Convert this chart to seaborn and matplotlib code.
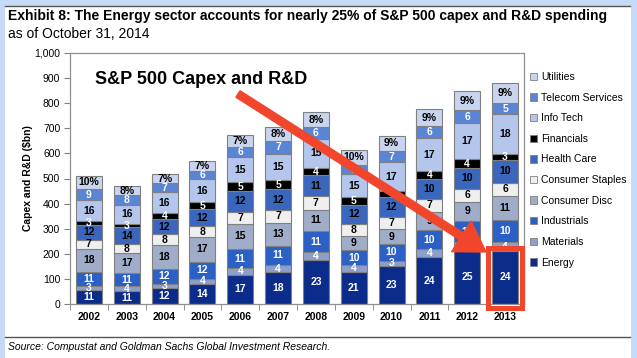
import numpy as np
import pandas as pd
import seaborn as sns
import matplotlib.pyplot as plt
from matplotlib.patches import Patch, Rectangle
from matplotlib.ticker import FuncFormatter

# data (percent of each year's total, totals in $bn)
years = [2002, 2003, 2004, 2005, 2006, 2007, 2008, 2009, 2010, 2011, 2012, 2013]
totals = [510, 470, 518, 570, 675, 705, 765, 615, 670, 778, 848, 880]

sectors = ['Energy', 'Materials', 'Industrials', 'Consumer Disc', 'Consumer Staples',
           'Health Care', 'Financials', 'Info Tech', 'Telecom Services', 'Utilities']
energy = [11, 11, 12, 14, 17, 18, 23, 21, 23, 24, 25, 24]
materials = [3, 4, 3, 4, 4, 4, 4, 4, 3, 4, 4, 4]
industrials = [11, 11, 12, 12, 11, 11, 11, 10, 10, 10, 10, 10]
cons_disc = [18, 17, 18, 17, 15, 13, 11, 9, 9, 9, 9, 11]
cons_staples = [7, 8, 8, 8, 7, 7, 7, 8, 7, 7, 6, 6]
health_care = [12, 14, 12, 12, 12, 12, 11, 12, 12, 10, 10, 10]
financials = [3, 3, 4, 5, 5, 5, 4, 5, 4, 4, 4, 3]
info_tech = [16, 16, 16, 16, 15, 15, 15, 15, 17, 17, 17, 18]
telecom = [9, 8, 7, 6, 6, 7, 6, 6, 7, 6, 6, 5]
utilities = [10, 8, 7, 7, 7, 8, 8, 10, 9, 9, 9, 9]

pcts = [energy, materials, industrials, cons_disc, cons_staples,
        health_care, financials, info_tech, telecom, utilities]

colors = ['#0b2c8a', '#8d9fca', '#2b60c6', '#a0adc9', '#efefef',
          '#3b66bd', '#000000', '#b4c6ec', '#5a85d5', '#c9d5ef']
text_colors = ['white', 'white', 'white', 'black', 'black',
               'black', 'white', 'black', 'white', 'black']

pct_arr = np.array(pcts, dtype=float)
seg = pct_arr / pct_arr.sum(axis=0) * np.array(totals)

rows = []
for i, s in enumerate(sectors):
    for j, y in enumerate(years):
        rows.append({'year': y, 'sector': s, 'value': seg[i, j]})
df = pd.DataFrame(rows)

fig = plt.figure(figsize=(6.37, 3.58), dpi=100)
fig.patches.append(Rectangle((0, 0), 1, 1, transform=fig.transFigure,
                             facecolor='#c6daf6', edgecolor='none', zorder=-10))
fig.patches.append(Rectangle((5 / 637, 0), 626 / 637, 352 / 358, transform=fig.transFigure,
                             facecolor='white', edgecolor='none', zorder=-9))

ax = fig.add_axes([70 / 637, 1 - 304 / 358, 454 / 637, 251 / 358])
sns.histplot(data=df, x='year', weights='value', hue='sector',
             hue_order=sectors[::-1], palette=dict(zip(sectors, colors)),
             multiple='stack', discrete=True, shrink=0.69, alpha=1,
             edgecolor='#808080', linewidth=0.8, legend=False, ax=ax)

# segment labels
cum = np.vstack([np.zeros(len(years)), np.cumsum(seg, axis=0)])
for i in range(len(sectors)):
    for j, y in enumerate(years):
        mid = (cum[i, j] + cum[i + 1, j]) / 2
        lab = f'{pcts[i][j]}%' if sectors[i] == 'Utilities' else f'{pcts[i][j]}'
        ax.text(y, mid, lab, ha='center', va='center', fontsize=7.5,
                fontweight='bold', color=text_colors[i], family='Liberation Sans')

ax.set_xlim(years[0] - 0.48, years[-1] + 0.5)
ax.set_ylim(0, 1000)
ax.set_yticks(range(0, 1001, 100))
ax.yaxis.set_major_formatter(FuncFormatter(lambda v, p: f'{int(v):,}'))
ax.set_xticks(years)
ax.set_xticklabels([str(y) for y in years], fontweight='bold')
ax.set_xticks([y + 0.5 for y in years[:-1]] + [years[0] - 0.5], minor=True)
ax.tick_params(axis='x', which='major', length=0, labelsize=7.5, pad=6)
ax.tick_params(axis='x', which='minor', length=4, color='#808080')
ax.tick_params(axis='y', length=4, color='#808080', labelsize=7.5, pad=3)
for t in ax.get_xticklabels() + ax.get_yticklabels():
    t.set_family('Liberation Sans')
for sp in ax.spines.values():
    sp.set_color('#909090')
    sp.set_linewidth(0.9)
ax.set_xlabel('')
ax.set_ylabel('Capex and R&D ($bn)', fontsize=7.5, fontweight='bold',
              family='Liberation Sans', labelpad=1)

# legend
handles = [Patch(facecolor=c, edgecolor='#808080', linewidth=0.6) for c in colors[::-1]]
fig.legend(handles, sectors[::-1], loc='upper left', bbox_to_anchor=(530 / 637, 1 - 72 / 358),
           frameon=False, prop={'family': 'Liberation Sans', 'size': 7.5},
           handlelength=0.7, handleheight=0.7, handletextpad=0.35, labelspacing=1.02,
           borderaxespad=0, borderpad=0)

# callouts
fig.text(95 / 637, 1 - 80 / 358, 'S&P 500 Capex and R&D', fontsize=13, fontweight='bold',
         family='Liberation Sans', va='center', ha='left')
ax.annotate('', xy=(486, 358 - 252), xycoords='figure pixels',
            xytext=(238, 358 - 94), textcoords='figure pixels',
            arrowprops=dict(arrowstyle='simple,head_length=2.1,head_width=2.6,tail_width=0.55',
                            color='#f2462c', shrinkA=0, shrinkB=0))
ax.add_patch(Rectangle((years[-1] - 0.45, -17), 0.9, 240, fill=False,
                       edgecolor='#f2462c', linewidth=3.6, clip_on=False, zorder=5))

# header and footer
fig.text(8 / 637, 1 - 16 / 358,
         'Exhibit 8: The Energy sector accounts for nearly 25% of S&P 500 capex and R&D spending',
         fontsize=10, fontweight='bold', family='Liberation Sans',
         va='center', ha='left')
fig.text(8 / 637, 1 - 34 / 358, 'as of October 31, 2014', fontsize=10,
         family='Liberation Sans', va='center', ha='left')
fig.text(8 / 637, 1 - 347 / 358, 'Source: Compustat and Goldman Sachs Global Investment Research.',
         fontsize=7.5, style='italic', family='Liberation Sans', va='center', ha='left')
fig.add_artist(plt.Line2D([5 / 637, 630 / 637], [1 - 6 / 358] * 2, color='#555555', linewidth=1))
fig.add_artist(plt.Line2D([5 / 637, 630 / 637], [1 - 337 / 358] * 2, color='#555555', linewidth=1))

fig.savefig('out.png', dpi=100)
